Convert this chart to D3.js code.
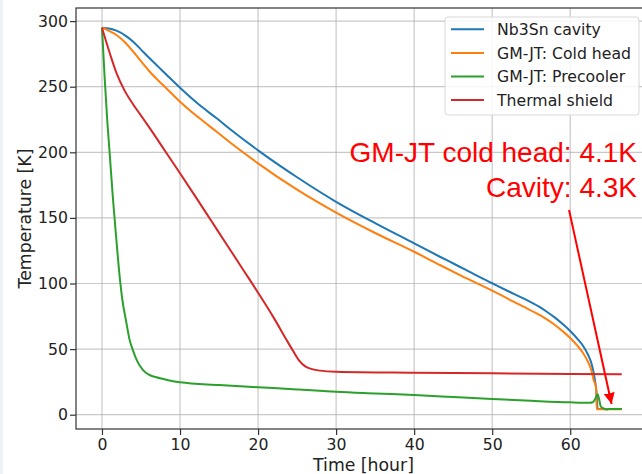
<!DOCTYPE html>
<html>
<head>
<meta charset="utf-8">
<script src="https://d3js.org/d3.v7.min.js"></script>
<style>
  body { margin: 0; background: #fff; }
  svg { display: block; }
</style>
</head>
<body>
<div id="chart"></div>
<script>
// series: time [hour] and temperature [K]
const cavityTime = [0, 0.9, 1.85, 3, 4, 5, 6.1, 7.2, 8.3, 10, 12.5, 14.7, 16.8, 20, 25, 30, 35, 40, 43.3, 45.4, 47.6, 50, 52, 54, 56, 57, 58, 59, 60, 61, 61.7, 62.3, 62.7, 63, 63.2, 63.4, 63.5, 66.6];
const cavityTemp = [295, 294.3, 292.7, 289, 284.3, 278.3, 271.7, 265.3, 258.9, 249.2, 236, 225.9, 215.8, 201.5, 181, 162.3, 146, 130.6, 120.4, 114.1, 107.3, 100.2, 94.3, 88.6, 82.3, 78.5, 74.2, 69.3, 63.8, 57.3, 52, 45.5, 39.5, 32, 25, 15, 4.3, 4.3];

const coldHeadTime = [0, 0.9, 1.85, 3, 4, 5, 6.1, 7.2, 8.3, 10, 12.5, 14.7, 16.8, 20, 25, 30, 35, 40, 43.3, 46, 50, 54, 56, 57, 58, 59, 60, 61, 61.7, 62.3, 62.7, 63, 63.3, 63.4, 66.6];
const coldHeadTemp = [295, 292.5, 289.4, 283.5, 276.7, 269.5, 261.6, 254.8, 248.5, 238.6, 225.9, 215.7, 205.8, 191.6, 171.5, 154, 138.5, 124.2, 114.1, 106, 94.5, 82.3, 76.2, 72.6, 68.6, 63.8, 58.5, 52, 46.5, 40, 34, 26.5, 21, 4.1, 4.1];

const precoolerTime = [0, 0.35, 0.7, 1.0, 1.4, 1.85, 2.22, 2.6, 3.13, 3.5, 3.97, 4.5, 5.26, 6.0, 6.97, 8.5, 10, 15, 20, 25, 27.9, 30, 35, 40, 45, 50, 55, 60, 62.5, 62.9, 63.2, 63.5, 63.7, 63.9, 64.2, 64.6, 65.0, 66.6];
const precoolerTemp = [295, 256, 222, 198, 165, 133, 108, 88, 70, 58, 49, 41, 34, 30.5, 28.5, 26.3, 24.7, 22.6, 20.9, 19.3, 18.3, 17.5, 16.2, 15, 13.5, 12, 10.6, 9.4, 9.1, 9.5, 12, 15.6, 12, 6.5, 5, 4, 4.3, 4.3];

const shieldTime = [0, 0.5, 1.0, 1.85, 2.9, 4.0, 5.0, 6.1, 8, 10, 12, 14, 16, 18, 20, 22, 23.6, 24.5, 25.3, 26, 26.6, 27.9, 30, 40, 50, 60, 66.6];
const shieldTemp = [295, 285, 275.5, 260.5, 247, 236.5, 228, 218.6, 201.8, 184, 166, 147.8, 129.6, 111.3, 93, 74, 57.5, 48.5, 41, 37, 35.3, 33.6, 32.8, 32, 31.5, 31, 30.8];

const seriesNames = ["Nb3Sn cavity", "GM-JT: Cold head", "GM-JT: Precooler", "Thermal shield"];
const seriesColors = ["#1f77b4", "#ff7f0e", "#2ca02c", "#d62728"];
const xTicks = [0, 10, 20, 30, 40, 50, 60];
const yTicks = [0, 50, 100, 150, 200, 250, 300];

const noteLines = ["GM-JT cold head: 4.1K", "Cavity: 4.3K"];
const arrowFrom = [59.85, 156];
const arrowTo = [65.3, 8.2];

const W = 642, H = 474;
const plotLeft = 76, plotRight = 651, plotTop = 8, plotBottom = 429;

const svg = d3.select("#chart").append("svg")
  .attr("width", W)
  .attr("height", H)
  .style("font-family", "'DejaVu Sans', sans-serif");

svg.append("rect").attr("width", W).attr("height", H).attr("fill", "#fff");
svg.append("rect").attr("width", 3).attr("height", H).attr("fill", "#eef1f5");

const x = d3.scaleLinear().domain([-3.33, 70.35]).range([plotLeft, plotRight]);
const y = d3.scaleLinear().domain([-10.9, 310]).range([plotBottom, plotTop]);

// grid
svg.append("g")
  .selectAll("line")
  .data(xTicks)
  .enter()
  .append("line")
  .attr("x1", d => x(d)).attr("x2", d => x(d))
  .attr("y1", plotTop).attr("y2", plotBottom)
  .attr("stroke", "#b0b0b0").attr("stroke-opacity", 0.7).attr("stroke-width", 1.2);

svg.append("g")
  .selectAll("line")
  .data(yTicks)
  .enter()
  .append("line")
  .attr("x1", plotLeft).attr("x2", plotRight)
  .attr("y1", d => y(d)).attr("y2", d => y(d))
  .attr("stroke", "#b0b0b0").attr("stroke-opacity", 0.7).attr("stroke-width", 1.2);

// curves
const allSeries = [
  d3.zip(cavityTime, cavityTemp),
  d3.zip(coldHeadTime, coldHeadTemp),
  d3.zip(precoolerTime, precoolerTemp),
  d3.zip(shieldTime, shieldTemp)
];

const line = d3.line()
  .x(d => x(d[0]))
  .y(d => y(d[1]))
  .curve(d3.curveMonotoneX);

svg.append("g")
  .selectAll("path")
  .data(allSeries)
  .enter()
  .append("path")
  .attr("d", line)
  .attr("fill", "none")
  .attr("stroke", (d, i) => seriesColors[i])
  .attr("stroke-width", 2)
  .attr("stroke-linejoin", "round");

// axes
const xAxis = svg.append("g")
  .attr("transform", "translate(0," + plotBottom + ")")
  .call(d3.axisBottom(x).tickValues(xTicks).tickSize(6).tickPadding(4).tickSizeOuter(0));

const yAxis = svg.append("g")
  .attr("transform", "translate(" + plotLeft + ",0)")
  .call(d3.axisLeft(y).tickValues(yTicks).tickSize(6).tickPadding(2).tickSizeOuter(0));

[xAxis, yAxis].forEach(a => {
  a.select(".domain").remove();
  a.selectAll(".tick line").attr("stroke", "#333").attr("stroke-width", 1.2);
  a.selectAll(".tick text")
    .attr("fill", "#222")
    .style("font-family", "'DejaVu Sans', sans-serif")
    .style("font-size", "15.7px");
});

// spines
svg.append("rect")
  .attr("x", plotLeft).attr("y", plotTop)
  .attr("width", plotRight - plotLeft).attr("height", plotBottom - plotTop)
  .attr("fill", "none").attr("stroke", "#333").attr("stroke-width", 1.2);

// axis labels
svg.append("text")
  .attr("x", (plotLeft + plotRight) / 2)
  .attr("y", 471)
  .attr("text-anchor", "middle")
  .attr("fill", "#222")
  .style("font-size", "17.3px")
  .text("Time [hour]");

svg.append("text")
  .attr("transform", "translate(31," + (plotTop + plotBottom) / 2 + ") rotate(-90)")
  .attr("text-anchor", "middle")
  .attr("fill", "#222")
  .style("font-size", "17.3px")
  .text("Temperature [K]");

// legend
const lg = svg.append("g").attr("transform", "translate(445,17)");
lg.append("rect")
  .attr("width", 194).attr("height", 98)
  .attr("rx", 3)
  .attr("fill", "#fff").attr("fill-opacity", 0.85)
  .attr("stroke", "#d8d8d8");

const item = lg.selectAll(".item")
  .data(seriesNames)
  .enter()
  .append("g")
  .attr("transform", (d, i) => "translate(0," + (12.3 + i * 23.6) + ")");

item.append("line")
  .attr("x1", 6).attr("x2", 39)
  .attr("stroke", (d, i) => seriesColors[i])
  .attr("stroke-width", 2);

item.append("text")
  .attr("x", 52)
  .attr("dy", "0.36em")
  .attr("fill", "#222")
  .style("font-size", "15.7px")
  .text(d => d);

// annotation
const note = svg.append("g")
  .style("font-family", "'Liberation Sans', Arial, sans-serif")
  .style("font-size", "28px")
  .attr("fill", "#ff0000");

note.selectAll("text")
  .data(noteLines)
  .enter()
  .append("text")
  .attr("x", 637)
  .attr("y", (d, i) => 162 + i * 34.5)
  .attr("text-anchor", "end")
  .text(d => d);

svg.append("defs").append("marker")
  .attr("id", "head")
  .attr("viewBox", "0 0 10 10")
  .attr("refX", 10).attr("refY", 5)
  .attr("markerWidth", 5.5).attr("markerHeight", 5.5)
  .attr("markerUnits", "strokeWidth")
  .attr("orient", "auto")
  .append("path")
  .attr("d", "M0,0 L10,5 L0,10 Z")
  .attr("fill", "#ff0000");

svg.append("line")
  .attr("x1", x(arrowFrom[0])).attr("y1", y(arrowFrom[1]))
  .attr("x2", x(arrowTo[0])).attr("y2", y(arrowTo[1]))
  .attr("stroke", "#ff0000")
  .attr("stroke-width", 2)
  .attr("marker-end", "url(#head)");
</script>
</body>
</html>
